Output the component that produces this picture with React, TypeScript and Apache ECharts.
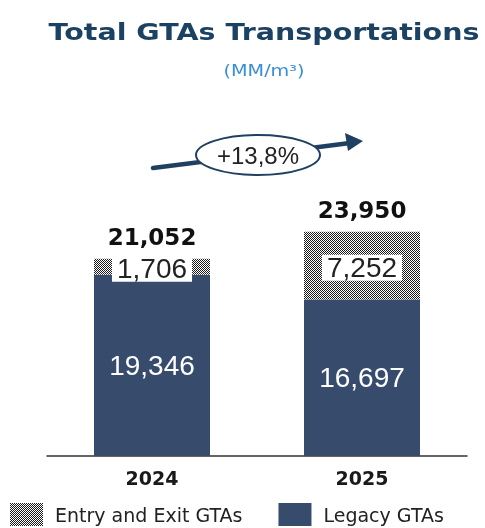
import React, { useEffect, useRef } from "react";
import * as echarts from "echarts";

const categories = ["2024", "2025"];
const legacyValues = [19346, 16697];
const entryExitValues = [1706, 7252];
const totalValues = [21052, 23950];
const growthLabel = "+13,8%";
const titleText = "Total GTAs Transportations";
const unitText = "(MM/m³)";

function makePattern() {
  const c = document.createElement("canvas");
  c.width = 2;
  c.height = 2;
  const ctx = c.getContext("2d")!;
  ctx.fillStyle = "#ffffff";
  ctx.fillRect(0, 0, 2, 2);
  ctx.fillStyle = "#1a1a1a";
  ctx.fillRect(0, 0, 1, 1);
  ctx.fillRect(1, 1, 1, 1);
  return c;
}

const fmt = (v: number) => v.toLocaleString("en-US");

export default function App() {
  const ref = useRef<HTMLDivElement>(null);
  useEffect(() => {
    if (!ref.current) return;
    const chart = echarts.init(ref.current, undefined, { renderer: "svg" });
    const pattern: any = {
      image: makePattern(),
      repeat: "repeat",
      imageWidth: 2,
      imageHeight: 2,
    };
    const navy = "#374c6c";
    const arrowColor = "#1f4060";
    chart.setOption({
      animation: false,
      legend: {
        top: 503,
        left: 10,
        padding: 0,
        itemWidth: 33,
        itemHeight: 23,
        itemGap: 36,
        data: ["Entry and Exit GTAs", "Legacy GTAs"],
        textStyle: {
          fontFamily: "DejaVu Sans",
          fontSize: 19,
          color: "#222",
          padding: [0, 0, 0, 7],
        },
        icon: "rect",
      },
      grid: { left: 47, right: 18, top: 175, bottom: 72 },
      xAxis: {
        type: "category",
        data: categories,
        axisTick: { show: false },
        axisLine: { lineStyle: { color: "#333", width: 1.5 } },
        axisLabel: {
          fontFamily: "DejaVu Sans",
          fontWeight: "bold",
          fontSize: 19,
          color: "#1a1a1a",
          margin: 12,
        },
      },
      yAxis: {
        type: "value",
        min: 0,
        max: 30000,
        show: false,
        splitLine: { show: false },
      },
      series: [
        {
          name: "Legacy GTAs",
          type: "bar",
          stack: "a",
          barWidth: 116,
          data: legacyValues,
          itemStyle: { color: navy },
          label: {
            show: true,
            position: "inside",
            formatter: (p: any) => fmt(p.value),
            color: "#ffffff",
            fontFamily: "Liberation Sans",
            fontSize: 28,
          },
        },
        {
          name: "Entry and Exit GTAs",
          type: "bar",
          stack: "a",
          barWidth: 116,
          data: entryExitValues,
          itemStyle: { color: pattern },
          label: {
            show: true,
            position: "inside",
            offset: [0, 2],
            formatter: (p: any) => fmt(p.value),
            color: "#222",
            fontFamily: "Liberation Sans",
            fontSize: 28,
            backgroundColor: "#ffffff",
            padding: [0, 5, -2, 5],
          },
        },
        {
          name: "Total",
          type: "bar",
          stack: "a",
          barWidth: 116,
          data: totalValues.map(() => 0),
          itemStyle: { color: "transparent" },
          label: {
            show: true,
            position: "top",
            distance: 10,
            formatter: (p: any) => fmt(totalValues[p.dataIndex]),
            color: "#111",
            fontFamily: "DejaVu Sans",
            fontWeight: "bold",
            fontSize: 23,
          },
        },
      ],
      graphic: [
        {
          type: "text",
          x: 264,
          y: 32,
          scaleX: 1.24,
          style: {
            text: titleText,
            fontFamily: "DejaVu Sans",
            fontWeight: "bold",
            fontSize: 23,
            fill: "#1c4263",
            align: "center",
            verticalAlign: "middle",
          },
        },
        {
          type: "text",
          x: 264,
          y: 71,
          scaleX: 1.2,
          style: {
            text: unitText,
            fontFamily: "DejaVu Sans",
            fontSize: 16,
            fill: "#3a8ed4",
            align: "center",
            verticalAlign: "middle",
          },
        },
        {
          type: "line",
          shape: { x1: 153, y1: 168, x2: 350, y2: 143 },
          style: { stroke: arrowColor, lineWidth: 4.5, lineCap: "round" },
        },
        {
          type: "polygon",
          shape: {
            points: [
              [363, 141],
              [345, 133],
              [348, 151],
            ],
          },
          style: { fill: arrowColor },
        },
        {
          type: "ellipse",
          shape: { cx: 258, cy: 155, rx: 62, ry: 20 },
          style: { fill: "#ffffff", stroke: arrowColor, lineWidth: 2 },
        },
        {
          type: "text",
          x: 258,
          y: 155,
          style: {
            text: growthLabel,
            fontFamily: "Liberation Sans",
            fontSize: 24,
            fill: "#222",
            align: "center",
            verticalAlign: "middle",
          },
        },
      ],
    });
    return () => chart.dispose();
  }, []);
  return (
    <div
      ref={ref}
      style={{ position: "fixed", left: 0, top: 0, width: 485, height: 528 }}
    />
  );
}
